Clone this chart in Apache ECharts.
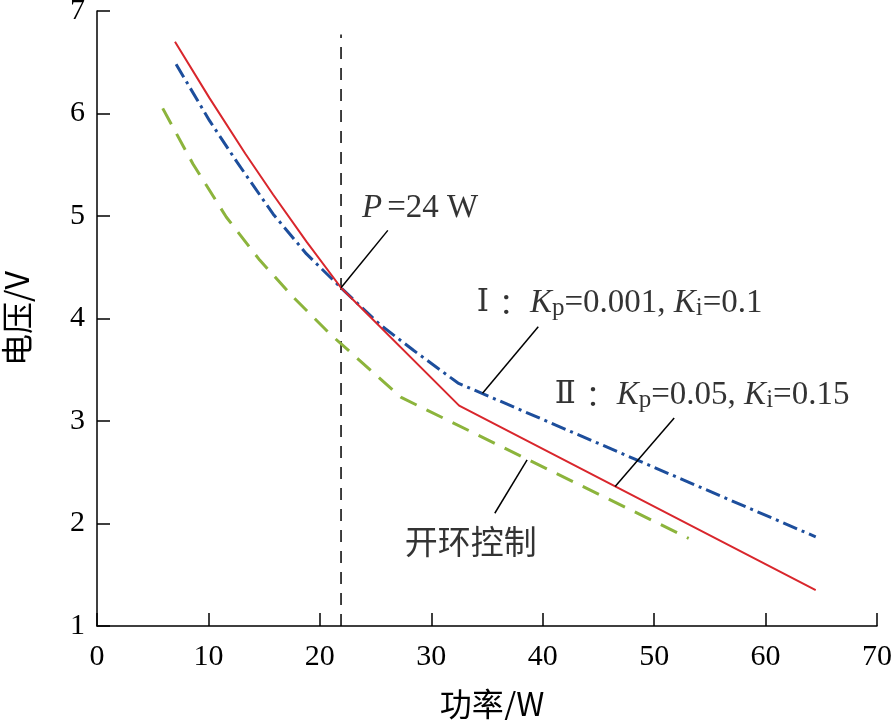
<!DOCTYPE html>
<html>
<head>
<meta charset="utf-8">
<script src="https://cdn.jsdelivr.net/npm/echarts@6/dist/echarts.min.js"></script>
<style>html,body{margin:0;padding:0;background:#fff}#c{width:893px;height:720px}</style>
</head>
<body>
<div id="c"></div>
<script>
// Series I: Kp=0.001, Ki=0.1 (blue dash-dot)
const s1X = [7.1, 10.1, 12.6, 15.8, 18.8, 21.9, 25.4, 28.4, 32.4, 64.5];
const s1Y = [6.48, 5.93, 5.52, 5.02, 4.63, 4.30, 3.94, 3.69, 3.37, 1.87];
// Series II: Kp=0.05, Ki=0.15 (red solid)
const s2X = [7.0, 10.1, 13.3, 15.8, 18.8, 21.9, 32.5, 64.5];
const s2Y = [6.70, 6.15, 5.61, 5.21, 4.75, 4.30, 3.15, 1.35];
// Open loop control (green dashed)
const s3X = [5.9, 8.6, 11.6, 14.6, 17.6, 20.9, 27.3, 53.1];
const s3Y = [6.05, 5.51, 4.99, 4.57, 4.21, 3.85, 3.23, 1.855];
// vertical reference line
const refX = 21.9;
const refY = [1, 6.77];
// axis ranges
const xRange = [0, 70, 10];
const yRange = [1, 7, 1];
// annotations: leader lines [x1,y1,x2,y2] and label anchors
const leaderP = [21.9, 4.30, 26.1, 4.86];
const leaderI = [34.6, 3.27, 39.6, 3.92];
const leaderII = [46.5, 2.36, 51.8, 3.03];
const leaderOpen = [38.6, 2.62, 35.7, 2.10];
const labelP = [29.0, 5.07];
const labelI = [46.9, 4.15];
const labelII = [54.3, 3.25];
const labelOpen = [33.55, 1.82];

const zip = (xs, ys) => xs.map((x, i) => [x, ys[i]]);
const serif = '"Liberation Serif","Times New Roman","DejaVu Serif","Noto Sans CJK SC",serif';
const roman = '"DejaVu Serif","Liberation Serif","Noto Sans CJK SC",serif';
const cjk = '"Noto Sans CJK SC",sans-serif';
const F = 30;
const FA = 33;

function leader(seg) {
  return {
    type: 'line', data: [[seg[0], seg[1]], [seg[2], seg[3]]], symbol: 'none', silent: true,
    lineStyle: {color: '#000', width: 1.5}, z: 5
  };
}
const rich = {
  n: {fontFamily: serif, fontSize: FA, color: '#000', lineHeight: 36},
  r: {fontFamily: roman, fontSize: FA - 2, color: '#000', lineHeight: 36, padding: [0, 10, 0, 0]},
  c: {fontFamily: cjk, fontSize: 29, color: '#000', lineHeight: 36, padding: [0, 2, 0, 0]},
  it: {fontFamily: serif, fontSize: FA, fontStyle: 'italic', color: '#000', lineHeight: 36},
  itp: {fontFamily: serif, fontSize: FA, fontStyle: 'italic', color: '#000', lineHeight: 36, padding: [0, 5, 0, 0]},
  sub: {fontFamily: serif, fontSize: 25, color: '#000', lineHeight: 14, verticalAlign: 'bottom'},
  cjk: {fontFamily: cjk, fontSize: 33, color: '#000', lineHeight: 36}
};
function label(pos, fmt) {
  return {
    type: 'scatter', data: [pos], symbolSize: 0, silent: true, z: 6,
    label: {show: true, position: 'inside', formatter: fmt, rich: rich, fontFamily: serif, fontSize: FA, color: '#000'}
  };
}

const chart = echarts.init(document.getElementById('c'), null, {renderer: 'canvas'});
const axisCommon = {
  axisLine: {show: true, onZero: false, lineStyle: {color: '#000', width: 1.5}},
  axisTick: {show: true, inside: true, length: 13, lineStyle: {color: '#000', width: 1.5}},
  splitLine: {show: false}
};
chart.setOption({
  animation: false,
  backgroundColor: '#fff',
  grid: {left: 97, right: 16, top: 11, bottom: 94, containLabel: false, outerBoundsMode: 'none'},
  xAxis: Object.assign({
    type: 'value', min: xRange[0], max: xRange[1], interval: xRange[2],
    name: '功率/W', nameLocation: 'middle', nameGap: 62,
    nameTextStyle: {color: '#000', fontFamily: '"Noto Sans CJK SC","Liberation Serif",sans-serif', fontSize: 32, padding: [0, 0, 0, 10]},
    axisLabel: {color: '#000', fontFamily: serif, fontSize: F, margin: 16}
  }, axisCommon),
  yAxis: Object.assign({
    type: 'value', min: yRange[0], max: yRange[1], interval: yRange[2],
    name: '电压/V', nameLocation: 'middle', nameGap: 64,
    nameTextStyle: {color: '#000', fontFamily: '"Noto Sans CJK SC","Liberation Serif",sans-serif', fontSize: 32},
    axisLabel: {color: '#000', fontFamily: serif, fontSize: F, margin: 12}
  }, axisCommon),
  series: [
    {type: 'line', data: [[refX, refY[0]], [refX, refY[1]]], symbol: 'none', silent: true,
     lineStyle: {color: '#000', width: 1.5, type: [12, 9]}, z: 1},
    {type: 'line', name: '开环控制', data: zip(s3X, s3Y), symbol: 'none',
     lineStyle: {color: '#8cb43c', width: 3, type: [18, 11]}, z: 2},
    {type: 'line', name: 'I', data: zip(s1X, s1Y), symbol: 'none',
     lineStyle: {color: '#1d4e9c', width: 3, type: [15, 5, 3, 5]}, z: 3},
    {type: 'line', name: 'II', data: zip(s2X, s2Y), symbol: 'none',
     lineStyle: {color: '#d9262c', width: 2}, z: 4},
    leader(leaderP), leader(leaderI), leader(leaderII), leader(leaderOpen),
    label(labelP, '{itp|P}{n|=24 W}'),
    label(labelI, '{r|Ⅰ}{c|：}{it|K}{sub|p}{n|=0.001, }{it|K}{sub|i}{n|=0.1}'),
    label(labelII, '{r|Ⅱ}{c|：}{it|K}{sub|p}{n|=0.05, }{it|K}{sub|i}{n|=0.15}'),
    label(labelOpen, '{cjk|开环控制}')
  ]
});
</script>
</body>
</html>
